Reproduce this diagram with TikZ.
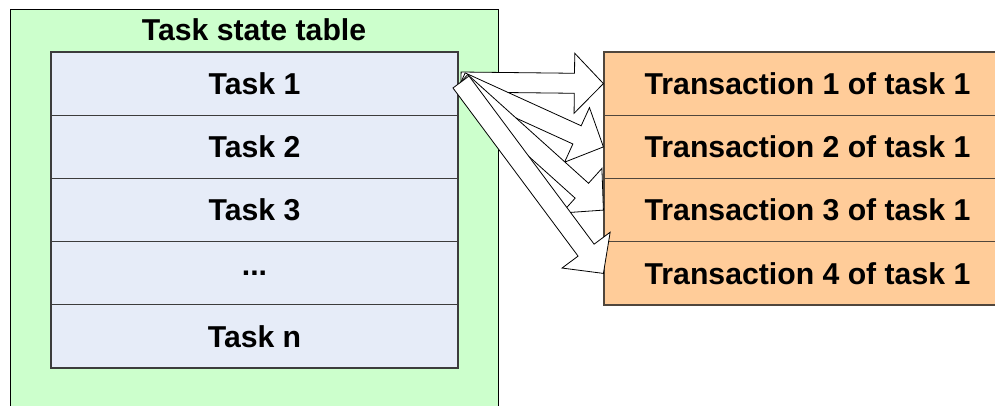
\documentclass[tikz,border=0pt]{standalone}
\usepackage{fontspec}
\setmainfont{Liberation Sans}
\usetikzlibrary{calc}

\definecolor{tablegreen}{RGB}{204,255,204}
\definecolor{rowblue}{RGB}{230,236,248}
\definecolor{transorange}{RGB}{255,204,153}
\definecolor{rowedge}{RGB}{60,60,60}
\definecolor{transedge}{RGB}{80,70,60}

\tikzset{
  label text/.style={font=\fontsize{30.2}{34}\selectfont\bfseries},
  outerbox/.style={draw=black, line width=1.2pt, fill=tablegreen, anchor=north west,
    minimum width=488pt, minimum height=420pt, inner sep=0pt},
  taskrow/.style={draw=rowedge, line width=1.2pt, fill=rowblue,
    minimum width=407pt, minimum height=63.2pt, inner sep=0pt, label text},
  transrow/.style={draw=transedge, line width=1.2pt, fill=transorange,
    minimum width=407pt, minimum height=63.25pt, inner sep=0pt, label text},
  fanarrow/.style={draw=black, fill=white, line width=0.8pt, line join=miter},
}

% block arrow from a tail point #1 to a tip point #2
\newcommand\blockarrow[2]{%
  \filldraw[fanarrow]
    ($(#1)!10pt!90:(#2)$)
    -- ($(#2)!29pt!(#1)!10pt!90:(#2)$)
    -- ($(#2)!29pt!(#1)!30pt!90:(#2)$)
    -- (#2)
    -- ($(#2)!29pt!(#1)!30pt!-90:(#2)$)
    -- ($(#2)!29pt!(#1)!10pt!-90:(#2)$)
    -- ($(#1)!10pt!-90:(#2)$)
    -- cycle;}

\begin{document}
\begin{tikzpicture}[x=1pt, y=-1pt]
  \useasboundingbox (0,0) rectangle (995,405);
  \clip (0,0) rectangle (995,405);

  % task state table
  \node[outerbox] (table) at (10,9) {};
  \node[label text] (title) at (254,30) {Task state table};

  \node[taskrow] (task1) at (254.5,83.6) {Task 1};
  \node[taskrow] (task2) at (254.5,146.8) {Task 2};
  \node[taskrow] (task3) at (254.5,210.0) {Task 3};
  \node[taskrow] (taskdots) at (254.5,273.2) {...};
  \node[taskrow] (taskn) at (254.5,336.4) {Task n};

  % transactions of task 1
  \node[transrow] (tr1) at (807.5,83.6) {Transaction 1 of task 1};
  \node[transrow] (tr2) at (807.5,146.9) {Transaction 2 of task 1};
  \node[transrow] (tr3) at (807.5,210.1) {Transaction 3 of task 1};
  \node[transrow] (tr4) at (807.5,273.4) {Transaction 4 of task 1};

  % fan of block arrows from task 1
  \coordinate (fan) at (461,82);
  \blockarrow{fan}{tr1.west}
  \blockarrow{fan}{tr2.west}
  \blockarrow{fan}{tr3.west}
  \blockarrow{fan}{tr4.west}
\end{tikzpicture}
\end{document}
